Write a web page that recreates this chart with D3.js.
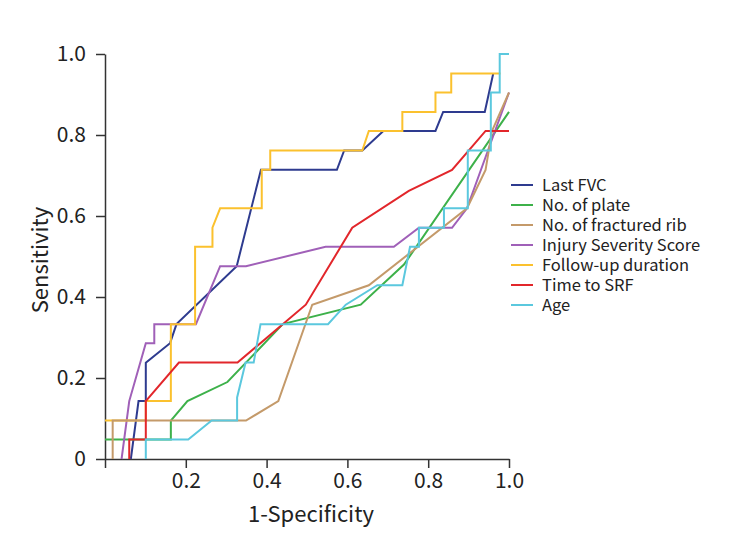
<!DOCTYPE html>
<html>
<head>
<meta charset="utf-8">
<script src="https://cdn.jsdelivr.net/npm/d3@7"></script>
<style>
  html, body { margin: 0; padding: 0; background: #fff; }
  svg { display: block; }
  text { font-family: "Noto Sans CJK SC", "Noto Sans", sans-serif; fill: #222; }
</style>
</head>
<body>
<svg id="chart" width="732" height="559"></svg>
<script>
// ---- Data (1-Specificity, Sensitivity) ----
const seriesNames = ["Last FVC", "No. of plate", "No. of fractured rib", "Injury Severity Score", "Follow-up duration", "Time to SRF", "Age"];
const seriesColors = ["#2e3b8f", "#3db14a", "#c49a6a", "#a060b8", "#fbc12e", "#e2262b", "#5bc8de"];

const lastFVC = [[0.064,0],[0.083,0.143],[0.101,0.143],[0.101,0.238],[0.161,0.286],[0.177,0.333],[0.326,0.476],[0.386,0.714],[0.574,0.714],[0.592,0.762],[0.637,0.762],[0.689,0.810],[0.818,0.810],[0.837,0.857],[0.940,0.857],[0.961,0.952]];
const noPlate = [[0,0.048],[0.163,0.048],[0.163,0.095],[0.204,0.143],[0.303,0.190],[0.44,0.333],[0.633,0.381],[0.74,0.480],[1.0,0.857]];
const noFracturedRib = [[0.019,0],[0.019,0.095],[0.349,0.095],[0.429,0.143],[0.513,0.381],[0.653,0.429],[0.896,0.619],[0.942,0.714],[0.958,0.810],[1.0,0.905]];
const iss = [[0.041,0],[0.06,0.143],[0.101,0.286],[0.122,0.286],[0.122,0.333],[0.225,0.333],[0.285,0.476],[0.349,0.476],[0.546,0.524],[0.715,0.524],[0.777,0.571],[0.859,0.571],[0.896,0.619],[1.0,0.905]];
const followUp = [[0,0.095],[0.101,0.095],[0.101,0.143],[0.163,0.143],[0.163,0.333],[0.223,0.333],[0.223,0.524],[0.266,0.524],[0.266,0.571],[0.285,0.619],[0.388,0.619],[0.388,0.714],[0.409,0.714],[0.409,0.762],[0.637,0.762],[0.653,0.810],[0.736,0.810],[0.736,0.857],[0.818,0.857],[0.818,0.905],[0.857,0.905],[0.857,0.952],[0.979,0.952]];
const timeToSRF = [[0.06,0],[0.06,0.048],[0.101,0.048],[0.101,0.143],[0.183,0.238],[0.328,0.238],[0.497,0.381],[0.612,0.571],[0.752,0.662],[0.859,0.714],[0.942,0.810],[1.0,0.810]];
const age = [[0.101,0],[0.101,0.048],[0.206,0.048],[0.264,0.095],[0.327,0.095],[0.327,0.152],[0.348,0.238],[0.368,0.238],[0.385,0.333],[0.552,0.333],[0.596,0.381],[0.674,0.429],[0.736,0.429],[0.755,0.524],[0.777,0.524],[0.777,0.571],[0.839,0.571],[0.839,0.619],[0.898,0.619],[0.898,0.762],[0.955,0.762],[0.955,0.905],[0.977,0.905],[0.977,1.0],[1.0,1.0]];

const seriesData = [lastFVC, noPlate, noFracturedRib, iss, followUp, timeToSRF, age];
// drawing order (index into series) so overlaps look like the reference
const drawOrder = [0, 1, 3, 4, 2, 5, 6];

const xTicks = [0, 0.2, 0.4, 0.6, 0.8, 1.0];
const xTickLabels = ["", "0.2", "0.4", "0.6", "0.8", "1.0"];
const yTicks = [0, 0.2, 0.4, 0.6, 0.8, 1.0];
const yTickLabels = ["0", "0.2", "0.4", "0.6", "0.8", "1.0"];
const xTitle = "1-Specificity";
const yTitle = "Sensitivity";

// ---- Layout ----
const svg = d3.select("#chart");
const x = d3.scaleLinear().domain([0, 1]).range([105, 509]);
const y = d3.scaleLinear().domain([0, 1]).range([459, 54]);

const axisColor = "#333";

const xAxis = d3.axisBottom(x).tickValues(xTicks)
  .tickFormat((d, i) => xTickLabels[i]).tickSize(9).tickPadding(5).tickSizeOuter(0);
const yAxis = d3.axisLeft(y).tickValues(yTicks)
  .tickFormat((d, i) => yTickLabels[i]).tickSize(9).tickPadding(10).tickSizeOuter(0);

const gx = svg.append("g").attr("transform", `translate(0,${y(0)})`).call(xAxis);
const gy = svg.append("g").attr("transform", `translate(${x(0)},0)`).call(yAxis);
[gx, gy].forEach(g => {
  g.select(".domain").attr("stroke", axisColor).attr("stroke-width", 1.5);
  g.selectAll(".tick line").attr("stroke", axisColor).attr("stroke-width", 1.5);
  g.selectAll(".tick text").attr("fill", "#222").style("font-size", "21px")
    .style("font-family", "'Noto Sans CJK SC', 'Noto Sans', sans-serif");
});

// ---- Curves ----
const line = d3.line().x(d => x(d[0])).y(d => y(d[1]));
const plot = svg.append("g");
drawOrder.forEach(i => {
  plot.append("path")
    .datum(seriesData[i])
    .attr("fill", "none")
    .attr("stroke", seriesColors[i])
    .attr("stroke-width", 2)
    .attr("stroke-linejoin", "miter")
    .attr("d", line);
});

// ---- Axis titles ----
svg.append("text")
  .attr("x", 311)
  .attr("y", 522)
  .attr("text-anchor", "middle")
  .style("font-size", "22px")
  .text(xTitle);
svg.append("text")
  .attr("transform", `translate(48,260) rotate(-90)`)
  .attr("text-anchor", "middle")
  .style("font-size", "22px")
  .text(yTitle);

// ---- Legend ----
const legend = svg.append("g").attr("transform", "translate(511,185)");
seriesNames.forEach((name, i) => {
  const g = legend.append("g").attr("transform", `translate(0,${i * 20})`);
  g.append("line").attr("x1", 0).attr("x2", 22).attr("y1", 0).attr("y2", 0)
    .attr("stroke", seriesColors[i]).attr("stroke-width", 2);
  g.append("text").attr("x", 31).attr("y", 0).attr("dy", "0.35em")
    .style("font-size", "16.5px").text(name);
});
</script>
</body>
</html>
